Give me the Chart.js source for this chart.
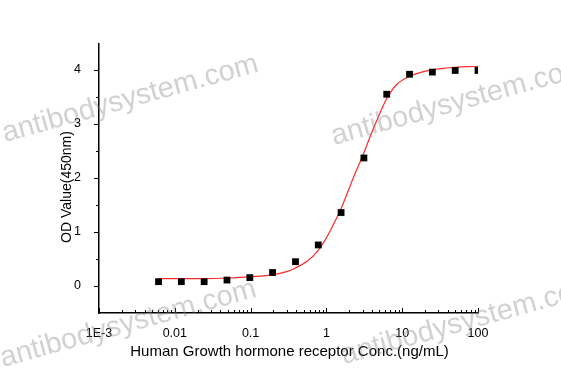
<!DOCTYPE html>
<html>
<head>
<meta charset="utf-8">
<script src="https://cdn.jsdelivr.net/npm/chart.js@4.4.1/dist/chart.umd.min.js"></script>
<style>
	html, body { margin: 0; padding: 0; background: #fff; }
	#wrap { width: 561px; height: 379px; position: relative; }
</style>
</head>
<body>
<div id="wrap"><canvas id="odChart"></canvas></div>
<script>
// measured points (2-fold dilution series)
var conc = [0.0061, 0.0122, 0.0244, 0.0488, 0.0977, 0.195, 0.391, 0.781, 1.5625, 3.125, 6.25, 12.5, 25, 50, 100];
var od = [0.08, 0.08, 0.08, 0.11, 0.155, 0.25, 0.45, 0.76, 1.36, 2.37, 3.55, 3.92, 3.96, 3.99, 3.99];

// fitted curve
var fitConc = [0.0061, 0.0236, 0.0484, 0.098, 0.2, 0.385, 0.78, 1.51, 2.26, 3.07, 3.76, 4.84, 6.25, 8.46, 12.4, 17.2, 24.7, 34.8, 49.7, 71, 100];
var fitOd = [0.135, 0.137, 0.148, 0.17, 0.21, 0.33, 0.66, 1.39, 2.0, 2.44, 2.76, 3.13, 3.47, 3.73, 3.88, 3.95, 4.0, 4.03, 4.05, 4.06, 4.065];

var xTicks = [0.001, 0.01, 0.1, 1, 10, 100];
var xTickLabels = ['1E-3', '0.01', '0.1', '1', '10', '100'];
var yTicks = [0, 1, 2, 3, 4];

var xTitle = 'Human Growth hormone receptor Conc.(ng/mL)';
var yTitle = 'OD Value(450nm)';
var watermark = 'antibodysystem.com';

var fontName = '"Liberation Sans", Arial, sans-serif';

document.addEventListener('DOMContentLoaded', function () {
	fntDrawChart();
});

function fntPairs(xs, ys) {
	var out = [];
	for (let i = 0; i < xs.length; i++) {
		out.push({ x: xs[i], y: ys[i] });
	}
	return out;
}

// ticks (inside on x, outside on y), axis titles and watermark
var extras = {
	id: 'extras',
	afterDraw: function (chart) {
		var ctx = chart.ctx;
		var area = chart.chartArea;
		var xs = chart.scales.x;
		var ys = chart.scales.y;
		ctx.save();
		ctx.strokeStyle = '#000';
		ctx.lineWidth = 1;
		ctx.beginPath();
		for (let d = -3; d <= 2; d++) {
			for (let m = 1; m <= 9; m++) {
				var v = m * Math.pow(10, d);
				if (v > 100.0001) break;
				var px = Math.round(xs.getPixelForValue(v)) + 0.5;
				var len = (m == 1) ? 5 : 3;
				ctx.moveTo(px, area.bottom);
				ctx.lineTo(px, area.bottom - len);
			}
		}
		for (let k = 0; k <= 8; k++) {
			var yv = k * 0.5;
			if (yv > ys.max) break;
			var py = Math.round(ys.getPixelForValue(yv)) + 0.5;
			var l2 = (k % 2 == 0) ? 5 : 3;
			ctx.moveTo(area.left, py);
			ctx.lineTo(area.left - l2, py);
		}
		ctx.stroke();

		ctx.fillStyle = '#000';
		ctx.textAlign = 'center';
		ctx.textBaseline = 'middle';
		ctx.font = '15px ' + fontName;
		ctx.fillText(xTitle, (area.left + area.right) / 2 + 1, 352);
		ctx.translate(67, 187);
		ctx.rotate(-Math.PI / 2);
		ctx.font = '14px ' + fontName;
		ctx.fillText(yTitle, 0, 0);
		ctx.restore();

		var marks = [[5, 142], [334, 145], [3, 367], [344, 364]];
		ctx.save();
		ctx.font = '29px ' + fontName;
		ctx.fillStyle = 'rgba(128,128,128,0.36)';
		ctx.textAlign = 'left';
		ctx.textBaseline = 'alphabetic';
		for (let i = 0; i < marks.length; i++) {
			ctx.save();
			ctx.translate(marks[i][0], marks[i][1]);
			ctx.rotate(-15.5 * Math.PI / 180);
			ctx.fillText(watermark, 0, 0);
			ctx.restore();
		}
		ctx.restore();
	}
};

function fntDrawChart() {
	var canvas = document.getElementById('odChart');
	new Chart(canvas, {
		type: 'scatter',
		data: {
			datasets: [{
				data: fntPairs(conc, od),
				pointStyle: 'rect',
				pointRadius: 4.8,
				pointBackgroundColor: '#000',
				pointBorderColor: '#000',
				pointBorderWidth: 0,
				showLine: false
			}, {
				data: fntPairs(fitConc, fitOd),
				showLine: true,
				pointRadius: 0,
				borderColor: '#ff2a2a',
				borderWidth: 1.2,
				cubicInterpolationMode: 'monotone',
				fill: false
			}]
		},
		options: {
			responsive: true,
			maintainAspectRatio: false,
			animation: false,
			events: [],
			layout: { padding: { top: 44, right: 83, left: 0, bottom: 0 } },
			plugins: {
				legend: { display: false },
				tooltip: { enabled: false }
			},
			scales: {
				x: {
					type: 'logarithmic',
					position: 'bottom',
					min: 0.001,
					max: 100,
					afterBuildTicks: function (scale) {
						scale.ticks = xTicks.map(function (v) { return { value: v }; });
					},
					afterFit: function (scale) { scale.height = 66; },
					grid: { display: false },
					border: { color: '#000', width: 1.5 },
					ticks: {
						autoSkip: false,
						maxRotation: 0,
						padding: 5,
						color: '#000',
						font: { family: fontName, size: 12.5 },
						callback: function (value, index) { return xTickLabels[index]; }
					}
				},
				y: {
					type: 'linear',
					min: -0.5,
					max: 4.48,
					afterBuildTicks: function (scale) {
						scale.ticks = yTicks.map(function (v) { return { value: v }; });
					},
					afterFit: function (scale) { scale.width = 99; },
					grid: { display: false },
					border: { color: '#000', width: 1.5 },
					ticks: {
						padding: 10,
						color: '#000',
						font: { family: fontName, size: 12.5 },
						callback: function (value) { return String(value); }
					}
				}
			}
		},
		plugins: [extras]
	});
}
</script>
</body>
</html>
